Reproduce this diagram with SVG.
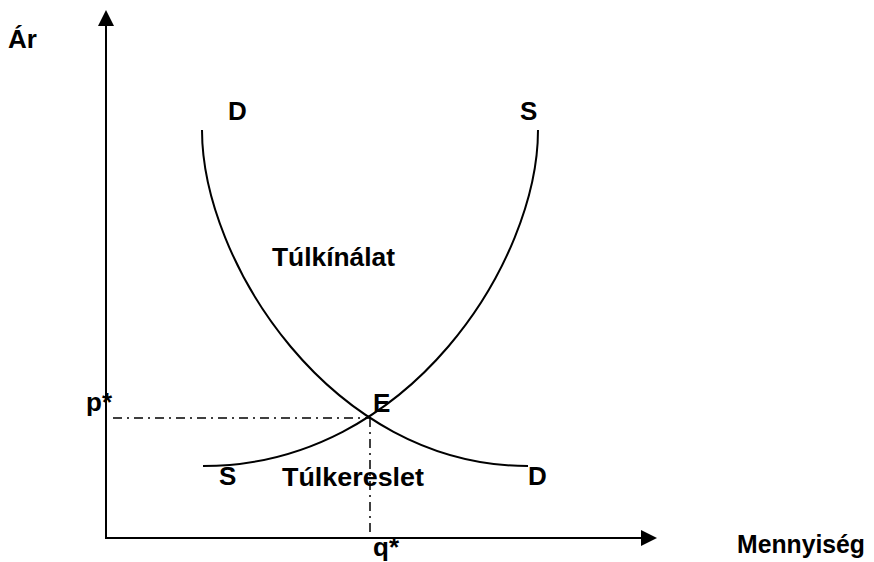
<svg xmlns="http://www.w3.org/2000/svg" width="874" height="562" viewBox="0 0 874 562">
  <style>
    .axis { stroke: #000; stroke-width: 2; fill: none; }
    .curve { stroke: #000; stroke-width: 2; fill: none; }
    .guide { stroke: #000; stroke-width: 1.5; fill: none; stroke-dasharray: 9 5 2 5; }
    .lbl { font-family: "Liberation Sans", Arial, sans-serif; font-weight: bold; font-size: 26px; fill: #000; }
  </style>
  <defs>
    <marker id="arrow" viewBox="0 0 16 16" refX="0" refY="8" markerWidth="16" markerHeight="16" markerUnits="userSpaceOnUse" orient="auto">
      <path d="M0,0 L16,8 L0,16 z" fill="#000"/>
    </marker>
  </defs>
  <rect width="874" height="562" fill="#fff"/>
  <g id="connectors">
    <line id="y-axis" class="axis" x1="106" y1="539" x2="106" y2="26" marker-end="url(#arrow)"/>
    <line id="x-axis" class="axis" x1="105" y1="538" x2="641" y2="538" marker-end="url(#arrow)"/>
    <path id="demand-curve" class="curve" d="M202,130 C202,260 330,466 528,466"/>
    <path id="supply-curve" class="curve" d="M203,466 C410,466 538,260 538,130"/>
    <line id="p-guide" class="guide" x1="113" y1="418" x2="370" y2="418"/>
    <line id="q-guide" class="guide" x1="370" y1="418" x2="370" y2="537"/>
  </g>
  <g id="axis-labels">
    <text class="lbl" x="8" y="48">Ár</text>
    <text class="lbl" x="737" y="553" textLength="128" lengthAdjust="spacingAndGlyphs">Mennyiség</text>
    <text class="lbl" x="86" y="411">p*</text>
    <text class="lbl" x="373" y="556">q*</text>
  </g>
  <g id="curve-labels">
    <text class="lbl" x="228" y="120">D</text>
    <text class="lbl" x="520" y="120">S</text>
    <text class="lbl" x="219" y="485">S</text>
    <text class="lbl" x="528" y="485">D</text>
    <text class="lbl" x="373" y="412">E</text>
  </g>
  <g id="region-labels">
    <text class="lbl" x="272" y="266" textLength="123" lengthAdjust="spacingAndGlyphs">Túlkínálat</text>
    <text class="lbl" x="282" y="486" textLength="142" lengthAdjust="spacingAndGlyphs">Túlkereslet</text>
  </g>
</svg>
